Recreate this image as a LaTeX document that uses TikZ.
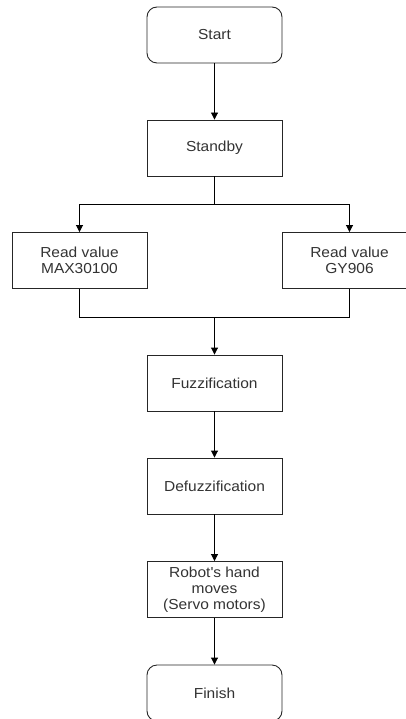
\documentclass[tikz,border=0pt]{standalone}
\usepackage{fontspec}
\setmainfont{Liberation Sans}[FakeStretch=1.07]
\usetikzlibrary{arrows.meta}
\begin{document}
\begin{tikzpicture}[x=1pt,y=-1pt,
  box/.style={draw=black!85, line width=0.9pt, minimum width=135pt, minimum height=56pt,
    inner sep=0pt, align=center, text=black!80,
    font=\fontsize{14.5pt}{15.8pt}\selectfont},
  term/.style={box, rounded corners=10pt},
  arr/.style={draw=black, line width=0.9pt, -{Triangle[length=7pt,width=7pt]}},
  ln/.style={draw=black, line width=0.9pt}]
\clip (0,0) rectangle (406,719);
\useasboundingbox (0,0) rectangle (406,719);
\node[term] (start) at (214.5,35) {Start};
\node[box] (standby) at (214.5,148) {Standby};
\node[box] (read1) at (79.5,260.5) {Read value\\MAX30100};
\node[box] (read2) at (349.5,260.5) {Read value\\GY906};
\node[box] (fuzz) at (214.5,383) {Fuzzification};
\node[box] (defuzz) at (214.5,486) {Defuzzification};
\node[box] (robot) at (214.5,589.5) {Robot\textquotesingle s hand\\moves\\(Servo motors)};
\node[term] (finish) at (214.5,693) {Finish};
\coordinate (split) at (214.5,204);
\coordinate (merge) at (214.5,317);
\draw[arr] (start) -- (standby);
\draw[ln] (standby) -- (split);
\draw[arr] (split) -| (read1);
\draw[arr] (split) -| (read2);
\draw[ln] (read1.south) |- (merge);
\draw[ln] (read2.south) |- (merge);
\draw[arr] (merge) -- (fuzz);
\draw[arr] (fuzz) -- (defuzz);
\draw[arr] (defuzz) -- (robot);
\draw[arr] (robot) -- (finish);
\end{tikzpicture}
\end{document}
